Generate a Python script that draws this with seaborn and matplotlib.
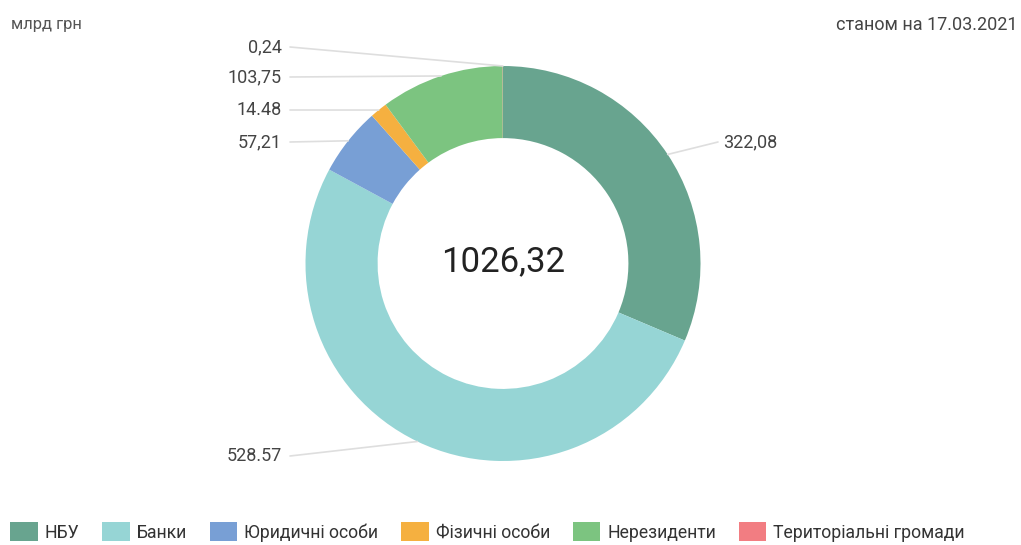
import numpy as np
import matplotlib
matplotlib.use("Agg")
import matplotlib.pyplot as plt
from matplotlib.patches import Patch
import seaborn as sns

# ---- data ----
categories = ["НБУ", "Банки", "Юридичні особи", "Фізичні особи", "Нерезиденти", "Територіальні громади"]
values = [322.08, 528.57, 57.21, 14.48, 103.75, 0.24]
value_labels = ["322,08", "528.57", "57,21", "14.48", "103,75", "0,24"]
total_label = "1026,32"
unit_label = "млрд грн"
date_label = "станом на 17.03.2021"
colors = ["#68a48f", "#96d5d5", "#789fd5", "#f5b040", "#7cc480", "#f27d82"]

sns.set_theme(style="white")
plt.rcParams["font.family"] = ["Roboto", "DejaVu Sans"]

W, H = 1021, 545
fig = plt.figure(figsize=(W / 100, H / 100), dpi=100)
ax = fig.add_axes([0, 0, 1, 1])

cx, cy_px, R = 503, 263.5, 197.5
cy = H - cy_px
wedges, _ = ax.pie(values, colors=colors, startangle=90, counterclock=False,
                   radius=R, center=(cx, cy),
                   wedgeprops=dict(width=R * 0.365, linewidth=0))
ax.set_xlim(0, W)
ax.set_ylim(0, H)
ax.set_aspect("equal")
ax.axis("off")

# label layout (pixel coords, y from top): side, text x, y
layout = [("r", 723, 142), ("l", 282, 456), ("l", 282, 142),
          ("l", 282, 110), ("l", 282, 77), ("l", 282, 47)]
for w, lab, (side, tx, ty) in zip(wedges, value_labels, layout):
    mid = np.deg2rad((w.theta1 + w.theta2) / 2)
    px, py = cx + R * np.cos(mid), cy + R * np.sin(mid)
    lx = tx - 5 if side == "r" else tx + 8
    ax.plot([px, lx], [py, H - ty], color="#dedede", lw=1.2, solid_capstyle="round")
    ax.text(tx, H - ty, lab, ha="left" if side == "r" else "right", va="center",
            fontsize=13, color="#444444")

ax.text(cx, cy + 2, total_label, ha="center", va="center", fontsize=25, color="#222222")
fig.text(11 / W, 1 - 25 / H, unit_label, ha="left", va="center", fontsize=12, color="#555555")
fig.text(1017 / W, 1 - 25 / H, date_label, ha="right", va="center", fontsize=13, color="#444444")

handles = [Patch(facecolor=c, edgecolor="none") for c in colors]
fig.legend(handles, categories, loc="center left", bbox_to_anchor=(-2 / W, 13 / H),
           ncol=6, frameon=False, fontsize=12.7, handlelength=1.55, handleheight=1.3,
           handletextpad=0.4, columnspacing=1.3, labelcolor="#333333",
           borderaxespad=0.3)

fig.savefig("out.png", dpi=100)
